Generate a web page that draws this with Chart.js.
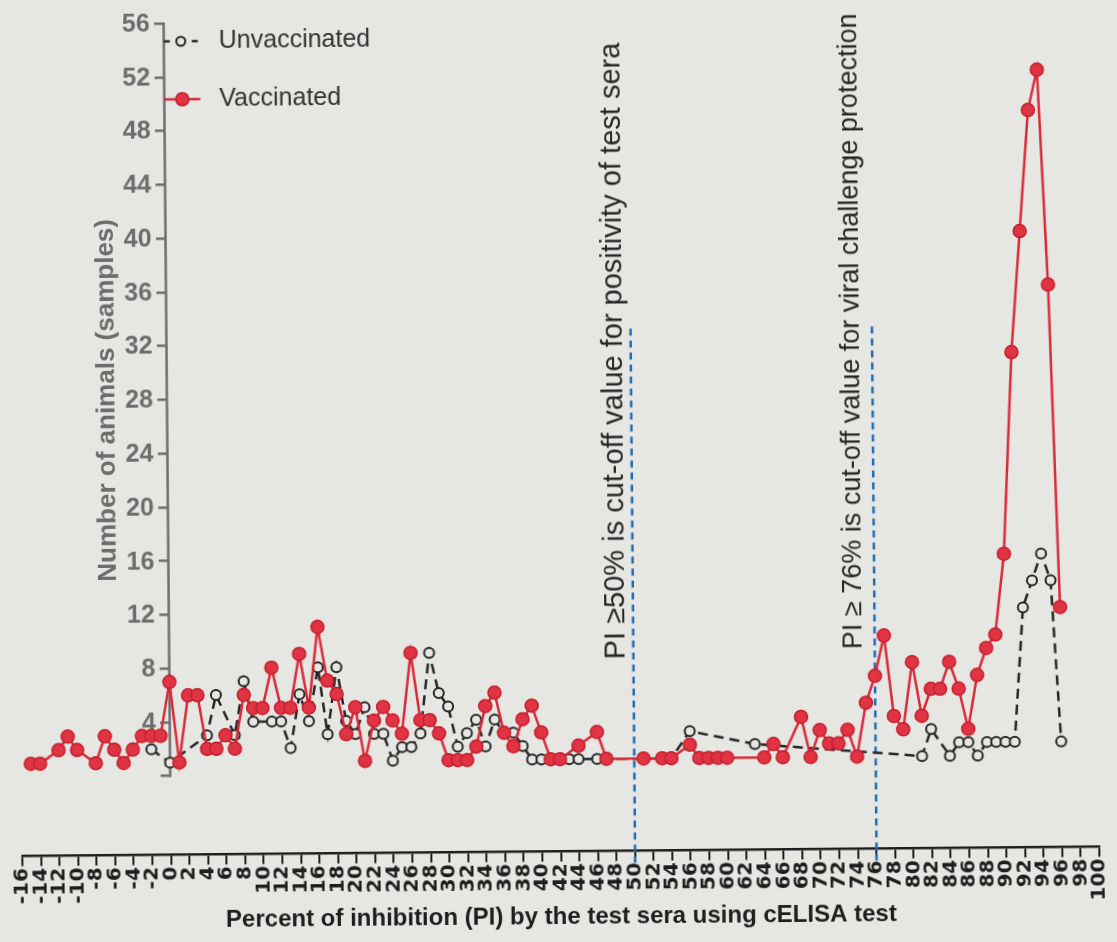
<!DOCTYPE html>
<html>
<head>
<meta charset="utf-8">
<script src="https://cdn.jsdelivr.net/npm/chart.js@4.4.0/dist/chart.umd.min.js"></script>
<style>
  html, body { margin: 0; padding: 0; background: #e6e6e3; overflow: hidden; }
  canvas { display: block; transform: rotate(-0.5deg); transform-origin: 50% 50%; }
</style>
</head>
<body>
<canvas id="chart" width="1117" height="942"></canvas>
<script>
// ---- data ----
const piVaccinated = [-15,-14,-12,-11,-10,-8,-7,-6,-5,-4,-3,-2,-1,0,
  1,2,3,4,5,6,7,8,9,10,11,12,13,14,15,16,17,18,19,20,
  21,22,23,24,25,26,27,28,29,30,31,32,33,34,35,36,37,38,39,40,41,42,
  44,46,47,51,53,54,56,57,58,59,60,64,65,66,68,69,70,71,72,73,74,75,76,
  77,78,79,80,81,82,83,84,85,86,87,88,89,90,91,92,93,94,95,96];
const vaccinated = [1,1,2,3,2,1,3,2,1,2,3,3,3,7,
  1,6,6,2,2,3,2,6,5,5,8,5,5,9,5,11,7,6,3,5,
  1,4,5,4,3,9,4,4,3,1,1,1,2,5,6,3,2,4,5,3,1,1,
  2,3,1,1,1,1,2,1,1,1,1,1,2,1,4,1,3,2,2,3,1,5,7,
  10,4,3,8,4,6,6,8,6,3,7,9,10,16,31,40,49,52,36,12];

const piUnvaccinated = [-2,0,4,5,7,8,9,11,12,13,14,15,16,17,18,19,20,
  21,22,23,24,25,26,27,28,29,30,31,32,33,34,35,36,37,38,39,40,
  43,44,46,54,56,63,81,82,84,85,86,87,88,89,90,91,92,93,94,95,96];
const unvaccinated = [2,1,3,6,3,7,4,4,4,2,6,4,8,3,8,4,3,
  5,3,3,1,2,2,3,9,6,5,2,3,4,2,4,3,3,2,1,1,
  1,1,1,1,3,2,1,3,1,2,2,1,2,2,2,2,12,14,16,14,2];

const seriesNames = ['Unvaccinated', 'Vaccinated'];
const xMin = -16, xMax = 100, xStep = 2;
const yTicks = [0,4,8,12,16,20,24,28,32,36,40,44,48,52,56];
const yBottom = -5.86;
const cutoffs = [50, 76];
const cutoffTop = 33;
const cutoffTexts = ['PI \u226550% is cut-off value for positivity of test sera',
                     'PI \u2265 76% is cut-off value for viral challenge protection'];
const cutoffTextStart = [8.4, 9.0];
const xTitle = 'Percent of inhibition (PI) by the test sera using cELISA test';
const yTitle = 'Number of animals (samples)';

const RED = '#da2a39';
const BLACK = '#262626';
const GREY = '#6d6d6d';
const BG = '#e6e6e3';

const toPoints = (xs, ys) => xs.map((x, i) => ({ x: x, y: ys[i] }));

const decor = {
  id: 'decor',
  beforeDraw(chart) {
    const { ctx, width, height } = chart;
    ctx.save();
    ctx.fillStyle = BG;
    ctx.fillRect(0, 0, width, height);
    ctx.restore();
  },
  beforeDatasetsDraw(chart) {
    const { ctx, scales: { x, y }, chartArea } = chart;
    ctx.save();
    const x0 = x.getPixelForValue(0);
    // y axis line (from 0 to 56 only, Prism style)
    ctx.strokeStyle = GREY;
    ctx.lineWidth = 2.5;
    ctx.beginPath();
    ctx.moveTo(x0, y.getPixelForValue(yTicks[0]) + 1);
    ctx.lineTo(x0, y.getPixelForValue(yTicks[yTicks.length - 1]) - 1);
    ctx.stroke();
    // y tick labels
    ctx.fillStyle = GREY;
    ctx.font = 'bold 25px "Liberation Sans", Arial, sans-serif';
    ctx.textAlign = 'right';
    ctx.textBaseline = 'middle';
    yTicks.forEach(v => {
      if (v === 0) return;
      ctx.fillText(String(v), x0 - 14, y.getPixelForValue(v) + 1);
    });
    // cut-off lines
    ctx.strokeStyle = '#1f6cb6';
    ctx.lineWidth = 2.5;
    ctx.setLineDash([7, 5]);
    cutoffs.forEach(c => {
      const px = x.getPixelForValue(c);
      ctx.beginPath();
      ctx.moveTo(px, y.getPixelForValue(cutoffTop));
      ctx.lineTo(px, chartArea.bottom + 12);
      ctx.stroke();
    });
    ctx.restore();
  },
  afterDraw(chart) {
    const { ctx, scales: { x, y } } = chart;
    const x0 = x.getPixelForValue(0);
    ctx.save();
    // cut-off annotations
    ctx.fillStyle = '#262626';
    ctx.textAlign = 'left';
    ctx.textBaseline = 'middle';
    const sizes = [29, 27];
    cutoffs.forEach((c, i) => {
      ctx.font = sizes[i] + 'px "Liberation Sans", Arial, sans-serif';
      const px = x.getPixelForValue(c) - (i === 0 ? 17 : 21);
      const py = y.getPixelForValue(cutoffTextStart[i]);
      ctx.save();
      ctx.translate(px, py);
      ctx.rotate(-Math.PI / 2);
      ctx.fillText(cutoffTexts[i], 0, 0);
      ctx.restore();
    });
    // y title
    ctx.fillStyle = GREY;
    ctx.font = 'bold 26px "Liberation Sans", Arial, sans-serif';
    ctx.textAlign = 'center';
    ctx.save();
    ctx.translate(x0 - 60, y.getPixelForValue(28));
    ctx.rotate(-Math.PI / 2);
    ctx.fillText(yTitle, 0, 0);
    ctx.restore();
    // legend
    const lx = x0;
    const rows = [y.getPixelForValue(56) + 18, y.getPixelForValue(56) + 76];
    ctx.strokeStyle = BLACK; ctx.lineWidth = 2.5; ctx.setLineDash([6, 8]);
    ctx.beginPath(); ctx.moveTo(lx, rows[0]); ctx.lineTo(lx + 36, rows[0]); ctx.stroke();
    ctx.setLineDash([]);
    ctx.fillStyle = BG; ctx.lineWidth = 2;
    ctx.beginPath(); ctx.arc(lx + 17, rows[0], 4.5, 0, Math.PI * 2); ctx.fill(); ctx.stroke();
    ctx.strokeStyle = RED; ctx.lineWidth = 2.5;
    ctx.beginPath(); ctx.moveTo(lx, rows[1]); ctx.lineTo(lx + 36, rows[1]); ctx.stroke();
    ctx.fillStyle = '#e03444'; ctx.lineWidth = 1.5; ctx.strokeStyle = '#c41f2c';
    ctx.beginPath(); ctx.arc(lx + 18, rows[1], 6.5, 0, Math.PI * 2); ctx.fill(); ctx.stroke();
    ctx.fillStyle = '#333';
    ctx.font = '25px "Liberation Sans", Arial, sans-serif';
    ctx.textAlign = 'left';
    ctx.textBaseline = 'middle';
    ctx.fillText(seriesNames[0], lx + 55, rows[0]);
    ctx.fillText(seriesNames[1], lx + 55, rows[1]);
    ctx.restore();
  }
};

new Chart(document.getElementById('chart'), {
  type: 'line',
  data: {
    datasets: [
      {
        label: seriesNames[1],
        data: toPoints(piVaccinated, vaccinated),
        borderColor: RED,
        borderWidth: 2.5,
        pointRadius: 6.5,
        pointBackgroundColor: '#e03444',
        pointBorderColor: '#c41f2c',
        pointBorderWidth: 1.5,
        tension: 0
      },
      {
        label: seriesNames[0],
        data: toPoints(piUnvaccinated, unvaccinated),
        borderColor: BLACK,
        borderWidth: 2.5,
        borderDash: [10, 6],
        pointRadius: 5,
        pointBackgroundColor: BG,
        pointBorderColor: BLACK,
        pointBorderWidth: 2,
        tension: 0
      }
    ]
  },
  options: {
    responsive: false,
    animation: false,
    devicePixelRatio: 1,
    clip: false,
    layout: { padding: { left: 19, right: 21, top: 20, bottom: 10 } },
    plugins: { legend: { display: false }, tooltip: { enabled: false } },
    scales: {
      x: {
        type: 'linear',
        position: 'bottom',
        min: xMin, max: xMax,
        afterFit: (scale) => { scale.paddingLeft = 0; scale.paddingRight = 0; },
        ticks: {
          stepSize: xStep, autoSkip: false, maxRotation: 90, minRotation: 90,
          color: '#1e1e1e', padding: 2,
          font: { family: '"DejaVu Sans", sans-serif', weight: 'bold', size: 20 }
        },
        grid: { drawOnChartArea: false, drawTicks: true, tickLength: 10, color: '#1e1e1e', lineWidth: 2 },
        border: { display: true, color: '#1e1e1e', width: 2.5 },
        title: {
          display: true, text: xTitle, color: '#1e1e1e', padding: { top: -4, bottom: 0 },
          font: { family: '"Liberation Sans", Arial, sans-serif', weight: 'bold', size: 24 }
        }
      },
      y: {
        type: 'linear',
        position: { x: 0 },
        min: yBottom, max: 56,
        afterBuildTicks: (scale) => { scale.ticks = yTicks.map(v => ({ value: v })); },
        ticks: { display: false },
        grid: { drawOnChartArea: false, drawTicks: true, tickLength: 10, color: GREY, lineWidth: 2.5 },
        border: { display: false },
        title: { display: false }
      }
    }
  },
  plugins: [decor]
});
</script>
</body>
</html>
